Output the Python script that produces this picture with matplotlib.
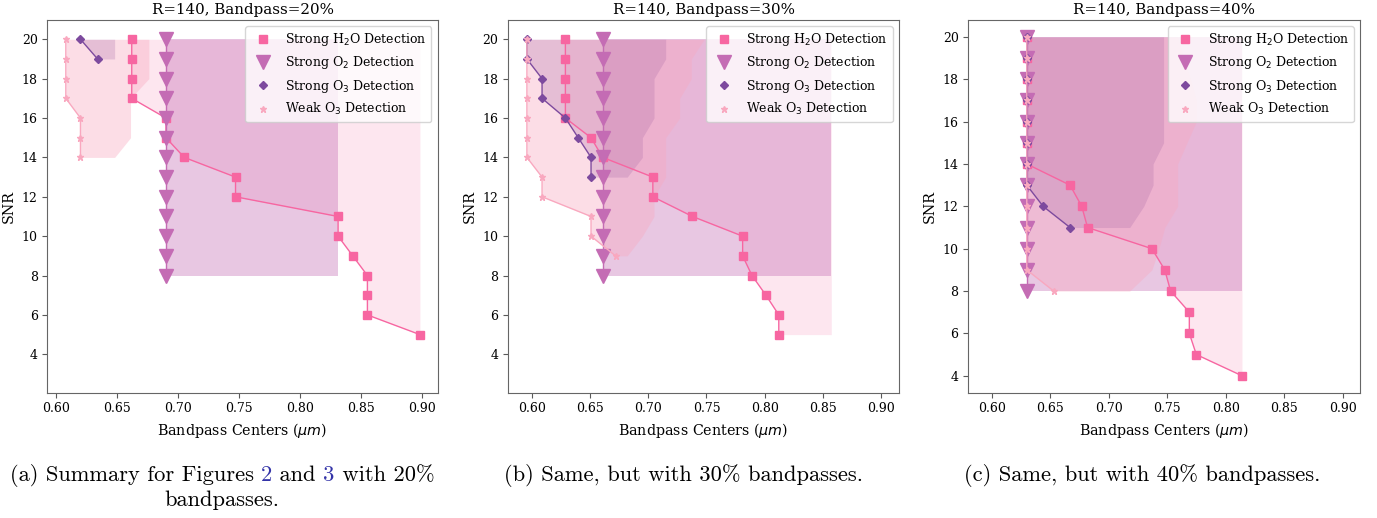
import matplotlib
matplotlib.use("Agg")
import matplotlib.pyplot as plt
from matplotlib.lines import Line2D
import numpy as np

plt.rcParams['font.family'] = 'DejaVu Serif'

# colours per detection type
c_h2o = '#f766a1'
c_o2 = '#c46cb4'
c_o3 = '#7d4a9e'
c_wo3 = '#f9a8bf'

# ---- R=140, Bandpass=20% ----
a_h2o_snr = [20, 19, 18, 17, 16, 15, 14, 13, 12, 11, 10, 9, 8, 7, 6, 5]
a_h2o_lo = [0.662, 0.662, 0.662, 0.662, 0.690, 0.690, 0.705, 0.747, 0.747, 0.831, 0.831, 0.843, 0.855, 0.855, 0.855, 0.898]
a_h2o_hi = [0.898] * 16
a_o2_snr = [20, 19, 18, 17, 16, 15, 14, 13, 12, 11, 10, 9, 8]
a_o2_lo = [0.690] * 13
a_o2_hi = [0.831] * 13
a_o3_snr = [20, 19]
a_o3_lo = [0.620, 0.634]
a_o3_hi = [0.648, 0.648]
a_wo3_snr = [20, 19, 18, 17, 16, 15, 14]
a_wo3_lo = [0.608, 0.608, 0.608, 0.608, 0.620, 0.620, 0.620]
a_wo3_hi = [0.676, 0.676, 0.676, 0.661, 0.661, 0.661, 0.648]

# ---- R=140, Bandpass=30% ----
b_h2o_snr = [20, 19, 18, 17, 16, 15, 14, 13, 12, 11, 10, 9, 8, 7, 6, 5]
b_h2o_lo = [0.629, 0.629, 0.629, 0.629, 0.629, 0.651, 0.661, 0.704, 0.704, 0.738, 0.781, 0.781, 0.789, 0.801, 0.812, 0.812]
b_h2o_hi = [0.857] * 16
b_o2_snr = [20, 19, 18, 17, 16, 15, 14, 13, 12, 11, 10, 9, 8]
b_o2_lo = [0.661] * 13
b_o2_hi = [0.857] * 13
b_o3_snr = [20, 19, 18, 17, 16, 15, 14, 13]
b_o3_lo = [0.596, 0.596, 0.609, 0.609, 0.629, 0.640, 0.651, 0.651]
b_o3_hi = [0.715, 0.715, 0.705, 0.705, 0.705, 0.695, 0.695, 0.682]
b_wo3_snr = [20, 19, 18, 17, 16, 15, 14, 13, 12, 11, 10, 9]
b_wo3_lo = [0.596, 0.596, 0.596, 0.596, 0.596, 0.596, 0.596, 0.609, 0.609, 0.651, 0.651, 0.672]
b_wo3_hi = [0.748, 0.737, 0.737, 0.727, 0.727, 0.715, 0.715, 0.715, 0.705, 0.705, 0.695, 0.682]

# ---- R=140, Bandpass=40% ----
c_h2o_snr = [20, 19, 18, 17, 16, 15, 14, 13, 12, 11, 10, 9, 8, 7, 6, 5, 4]
c_h2o_lo = [0.630] * 7 + [0.667, 0.677, 0.682, 0.737, 0.748, 0.753, 0.769, 0.769, 0.775, 0.814]
c_h2o_hi = [0.814] * 17
c_o2_snr = [20, 19, 18, 17, 16, 15, 14, 13, 12, 11, 10, 9, 8]
c_o2_lo = [0.630] * 13
c_o2_hi = [0.814] * 13
c_o3_snr = [20, 19, 18, 17, 16, 15, 14, 13, 12, 11]
c_o3_lo = [0.630] * 8 + [0.644, 0.667]
c_o3_hi = [0.747, 0.747, 0.747, 0.747, 0.747, 0.747, 0.738, 0.738, 0.730, 0.718]
c_wo3_snr = [20, 19, 18, 17, 16, 15, 14, 13, 12, 11, 10, 9, 8]
c_wo3_lo = [0.630] * 12 + [0.653]
c_wo3_hi = [0.759, 0.764, 0.770, 0.775, 0.775, 0.767, 0.759, 0.759, 0.759, 0.748, 0.743, 0.737, 0.718]

panels = [
    ('R=140, Bandpass=20%', (0.5929, 0.9126), (2.05, 20.98),
     [(a_h2o_snr, a_h2o_lo, a_h2o_hi), (a_o2_snr, a_o2_lo, a_o2_hi),
      (a_o3_snr, a_o3_lo, a_o3_hi), (a_wo3_snr, a_wo3_lo, a_wo3_hi)]),
    ('R=140, Bandpass=30%', (0.58, 0.915), (2.05, 20.98),
     [(b_h2o_snr, b_h2o_lo, b_h2o_hi), (b_o2_snr, b_o2_lo, b_o2_hi),
      (b_o3_snr, b_o3_lo, b_o3_hi), (b_wo3_snr, b_wo3_lo, b_wo3_hi)]),
    ('R=140, Bandpass=40%', (0.58, 0.915), (3.2, 20.8),
     [(c_h2o_snr, c_h2o_lo, c_h2o_hi), (c_o2_snr, c_o2_lo, c_o2_hi),
      (c_o3_snr, c_o3_lo, c_o3_hi), (c_wo3_snr, c_wo3_lo, c_wo3_hi)]),
]

styles = [
    dict(color=c_h2o, marker='s', ms=6.2, alpha=0.16, label='Strong H$_2$O Detection'),
    dict(color=c_o2, marker='v', ms=9.5, alpha=0.38, label='Strong O$_2$ Detection'),
    dict(color=c_o3, marker='D', ms=4.3, alpha=0.28, label='Strong O$_3$ Detection'),
    dict(color=c_wo3, marker='*', ms=5, alpha=0.38, label='Weak O$_3$ Detection'),
]

fig = plt.figure(figsize=(13.77, 5.18), dpi=100)
lefts = [0.0344, 0.3691, 0.7032]
widths = [0.2835, 0.2837, 0.2845]

for (title, xl, yl, series), left, w in zip(panels, lefts, widths):
    ax = fig.add_axes([left, 0.2419, w, 0.7195])
    # shaded detection zones
    for (snr, lo, hi), st in zip(series, styles):
        ax.fill_betweenx(snr, lo, hi, color=st['color'], alpha=st['alpha'], lw=0)
    # minimum bandpass centre for each detection
    for (snr, lo, hi), st in zip(series, styles):
        ax.plot(lo, snr, color=st['color'], marker=st['marker'], ms=st['ms'], lw=1)
    handles = [Line2D([], [], ls='none', color=st['color'], marker=st['marker'],
                      ms=st['ms'], label=st['label']) for st in styles]
    ax.legend(handles=handles, loc='upper right', fontsize=9)
    ax.set_xlim(*xl)
    ax.set_ylim(*yl)
    ax.set_xticks(np.arange(0.60, 0.901, 0.05))
    ax.set_xticklabels(['%.2f' % v for v in np.arange(0.60, 0.901, 0.05)])
    ax.set_yticks(range(4, 21, 2))
    ax.tick_params(labelsize=9, color='0.35')
    for s in ax.spines.values():
        s.set_color('0.4')
    ax.set_title(title, fontsize=10.8, pad=4)
    ax.set_xlabel(r'Bandpass Centers ($\mu m$)', fontsize=10.3)
    ax.set_ylabel('SNR', fontsize=10.3)

# subfigure captions
cap_font = dict(family='cmr10', size=16.2)
blue = '#3434a8'
renderer = fig.canvas.get_renderer()
W = fig.get_figwidth() * fig.dpi


def text_width(s):
    t = fig.text(0, 0, s, **cap_font)
    w = t.get_window_extent(renderer).width
    t.remove()
    return w


def caption_line(pieces, xc, y):
    full = ''.join(p for p, _ in pieces)
    x0 = xc - text_width(full) / 2
    prefix = ''
    for p, col in pieces:
        pos = text_width(prefix + p) - text_width(p)
        fig.text((x0 + pos) / W, y, p, color=col, va='center', ha='left', **cap_font)
        prefix += p


caption_line([('(a) Summary for Figures ', 'k'), ('2', blue), (' and ', 'k'),
              ('3', blue), (' with 20%', 'k')], 222, 0.083)
caption_line([('bandpasses.', 'k')], 222, 0.0347)
caption_line([('(b) Same, but with 30% bandpasses.', 'k')], 683, 0.083)
caption_line([('(c) Same, but with 40% bandpasses.', 'k')], 1142, 0.083)

fig.savefig('out.png', dpi=100)
